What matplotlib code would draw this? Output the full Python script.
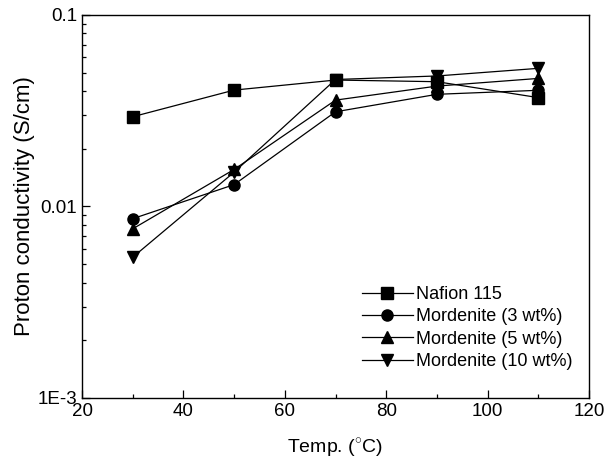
import matplotlib
matplotlib.use("Agg")
import matplotlib.pyplot as plt
from matplotlib.ticker import FixedLocator, FixedFormatter, LogLocator, NullFormatter, MultipleLocator

plt.rcParams["font.family"] = ["Liberation Sans", "DejaVu Sans"]
plt.rcParams["mathtext.fontset"] = "custom"
plt.rcParams["mathtext.rm"] = "Liberation Sans"

temp = [30, 50, 70, 90, 110]
nafion = [0.0294, 0.0405, 0.0457, 0.0448, 0.0370]
mord3 = [0.00863, 0.0130, 0.0312, 0.0385, 0.0404]
mord5 = [0.00764, 0.0156, 0.0359, 0.0425, 0.0466]
mord10 = [0.00543, 0.0151, 0.0460, 0.0480, 0.0526]

series = [
    (nafion, "s", "Nafion 115"),
    (mord3, "o", "Mordenite (3 wt%)"),
    (mord5, "^", "Mordenite (5 wt%)"),
    (mord10, "v", "Mordenite (10 wt%)"),
]

fig = plt.figure(figsize=(6.14, 4.66), dpi=100)
ax = fig.add_axes([0.1336, 0.146, 0.8257, 0.822])

for vals, mk, lab in series:
    ax.plot(temp, vals, color="black", marker=mk, markersize=8, linewidth=0.9, label=lab)

ax.set_yscale("log")
ax.set_xlim(20, 120)
ax.set_ylim(1e-3, 0.1)
ax.xaxis.set_major_locator(MultipleLocator(20))
ax.xaxis.set_minor_locator(MultipleLocator(10))
ax.yaxis.set_major_locator(FixedLocator([1e-3, 1e-2, 1e-1]))
ax.yaxis.set_major_formatter(FixedFormatter(["1E-3", "0.01", "0.1"]))
ax.yaxis.set_minor_locator(LogLocator(base=10, subs=range(2, 10)))
ax.yaxis.set_minor_formatter(NullFormatter())

ax.tick_params(which="both", direction="in", top=False, right=False, labelsize=13.5, width=0.9)
ax.tick_params(which="major", length=6)
ax.tick_params(which="minor", length=3)
for s in ax.spines.values():
    s.set_linewidth(1.0)

ax.set_xlabel(r"Temp. ($^{\circ}$C)", fontsize=14, labelpad=12)
ax.set_ylabel("Proton conductivity (S/cm)", fontsize=16, labelpad=2)

ax.legend(loc="lower right", frameon=False, fontsize=13, handlelength=2.8,
          handletextpad=0.2, labelspacing=0.3, bbox_to_anchor=(1.0, 0.03))

fig.savefig("out.png", dpi=100)
